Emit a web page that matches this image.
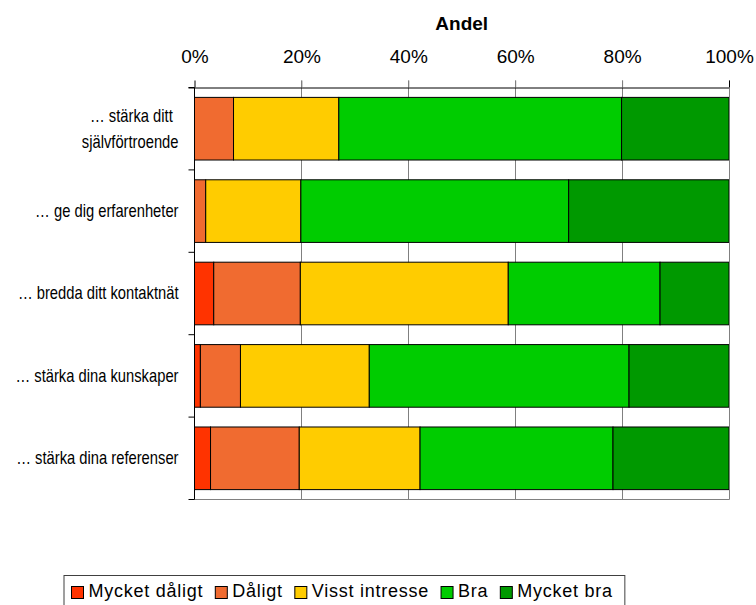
<!DOCTYPE html>
<html>
<head>
<meta charset="utf-8">
<script src="https://cdn.jsdelivr.net/npm/d3@7"></script>
<style>
  html, body { margin: 0; padding: 0; background: #fff; }
  svg { display: block; font-family: 'Liberation Sans', Arial, sans-serif; }
</style>
</head>
<body>
<div id="chart"></div>
<script>
// categories (top to bottom) and the five answer series, in percent
const categories = [
  '… stärka ditt självförtroende',
  '… ge dig erfarenheter',
  '… bredda ditt kontaktnät',
  '… stärka dina kunskaper',
  '… stärka dina referenser',
];
const seriesNames = ['Mycket dåligt', 'Dåligt', 'Visst intresse', 'Bra', 'Mycket bra'];
const mycketDaligt = [0, 0, 3.6, 1.1, 3.0];
const daligt = [7.3, 2.1, 16.2, 7.5, 16.6];
const visstIntresse = [19.7, 17.8, 38.9, 24.1, 22.6];
const bra = [52.9, 50.1, 28.4, 48.6, 36.1];
const mycketBra = [20.1, 30.0, 12.9, 18.7, 21.7];
const xTicks = [0, 20, 40, 60, 80, 100];
const axisTitle = 'Andel';

const colours = ['#FF3300', '#F06B30', '#FFCC00', '#00CC00', '#009900'];

const width = 756;
const height = 605;
const margin = { top: 87.5, right: 27, bottom: 105.5, left: 194.5 };

// build rows for d3.stack
const seriesValues = [mycketDaligt, daligt, visstIntresse, bra, mycketBra];
const rows = categories.map((c, i) => {
  const row = { category: c };
  seriesNames.forEach((s, j) => (row[s] = seriesValues[j][i]));
  return row;
});
const stacked = d3.stack().keys(seriesNames)(rows);

const x = d3
  .scaleLinear()
  .domain([0, 100])
  .range([margin.left, width - margin.right]);

const y = d3
  .scaleBand()
  .domain(categories)
  .range([margin.top, height - margin.bottom])
  .paddingInner(0.24)
  .paddingOuter(0.12);

const svg = d3
  .select('#chart')
  .append('svg')
  .attr('width', width)
  .attr('height', height);

const plotTop = y.range()[0];
const plotBottom = y.range()[1];

// gray gridlines (they also poke above the axis as ticks)
svg
  .append('g')
  .attr('stroke', '#808080')
  .attr('stroke-width', 1)
  .selectAll('line')
  .data(xTicks.filter(t => t > 0))
  .join('line')
  .attr('x1', d => Math.round(x(d)) + 0.5)
  .attr('x2', d => Math.round(x(d)) + 0.5)
  .attr('y1', plotTop - 7)
  .attr('y2', plotBottom);

// plot area bottom border
svg
  .append('line')
  .attr('x1', x(0))
  .attr('x2', x(100))
  .attr('y1', plotBottom)
  .attr('y2', plotBottom)
  .attr('stroke', '#808080');

// stacked bars
svg
  .append('g')
  .selectAll('g')
  .data(stacked)
  .join('g')
  .attr('fill', (d, i) => colours[i])
  .selectAll('rect')
  .data(d => d.map(v => ({ v, cat: v.data.category })))
  .join('rect')
  .attr('x', d => x(d.v[0]))
  .attr('width', d => x(d.v[1]) - x(d.v[0]))
  .attr('y', d => y(d.cat))
  .attr('height', y.bandwidth())
  .attr('stroke', '#000')
  .attr('stroke-width', 1);

// top axis
const xAxis = svg
  .append('g')
  .attr('transform', `translate(0,${plotTop})`)
  .call(
    d3
      .axisTop(x)
      .tickValues(xTicks)
      .tickFormat(d => d + '%')
      .tickSize(7)
      .tickPadding(18)
  );
xAxis.select('.domain').attr('d', `M${x(0) - 6},0.5H${x(100)}`).attr('stroke', '#000');
xAxis
  .selectAll('.tick line')
  .attr('stroke', d => (d === 0 || d === 100 ? '#000' : '#808080'));
xAxis
  .selectAll('.tick text')
  .attr('font-size', 19)
  .attr('font-family', "'Liberation Sans', Arial, sans-serif")
  .attr('fill', '#000');

// right border of the plot area
svg
  .append('line')
  .attr('x1', x(100) + 0.5)
  .attr('x2', x(100) + 0.5)
  .attr('y1', plotTop)
  .attr('y2', plotBottom)
  .attr('stroke', '#808080');

// axis title
svg
  .append('text')
  .attr('x', (x(0) + x(100)) / 2)
  .attr('y', 30)
  .attr('text-anchor', 'middle')
  .attr('font-weight', 'bold')
  .attr('font-size', 19)
  .text(axisTitle);

// left category axis: ticks at band boundaries
const step = y.step();
const boundaries = d3.range(categories.length + 1).map(i => plotTop + i * step);
svg
  .append('line')
  .attr('x1', x(0))
  .attr('x2', x(0))
  .attr('y1', plotTop)
  .attr('y2', plotBottom)
  .attr('stroke', '#000');
svg
  .append('g')
  .selectAll('line')
  .data(boundaries)
  .join('line')
  .attr('x1', x(0) - 6)
  .attr('x2', x(0))
  .attr('y1', d => d)
  .attr('y2', d => d)
  .attr('stroke', '#000');

// category labels, condensed look, wrap long ones
const labelScale = 0.82;
const labelSize = 18;
const labelRight = 178.5;
const maxLabelWidth = 170;
const labels = svg.append('g').attr('font-size', labelSize).attr('fill', '#000');

categories.forEach(cat => {
  const cy = y(cat) + y.bandwidth() / 2;
  const g = labels
    .append('g')
    .attr('transform', `translate(${labelRight},${cy}) scale(${labelScale},1)`);
  const probe = g.append('text').attr('text-anchor', 'end').text(cat);
  const w = probe.node().getComputedTextLength() * labelScale;
  if (w <= maxLabelWidth) {
    probe.attr('dy', '0.33em');
    return;
  }
  probe.remove();
  // split at the last space that keeps the first line short enough
  const words = cat.split(' ');
  const lines = [];
  let cur = '';
  words.forEach(wd => {
    const test = cur ? cur + ' ' + wd : wd;
    const t = g.append('text').text(test);
    const tw = t.node().getComputedTextLength() * labelScale;
    t.remove();
    if (tw > maxLabelWidth - 10 && cur) {
      lines.push(cur);
      cur = wd;
    } else {
      cur = test;
    }
  });
  lines.push(cur);
  const lh = 26;
  lines.forEach((ln, i) => {
    g.append('text')
      .attr('text-anchor', 'end')
      .attr('x', i < lines.length - 1 ? -7 : 0)
      .attr('y', (i - (lines.length - 1) / 2) * lh)
      .attr('dy', '0.33em')
      .text(ln);
  });
});

// legend
const legend = svg.append('g');
const legendTop = 575.5;
const legendLeft = 64;
const sq = 12;
const legendItems = legend.append('g');
let lx = legendLeft + 7.5;
seriesNames.forEach((name, i) => {
  legendItems
    .append('rect')
    .attr('x', lx)
    .attr('y', 586.5)
    .attr('width', sq)
    .attr('height', sq)
    .attr('fill', colours[i])
    .attr('stroke', '#000');
  const t = legendItems
    .append('text')
    .attr('x', lx + sq + 5)
    .attr('y', 597)
    .attr('font-size', 18)
    .attr('letter-spacing', 0.75)
    .text(name);
  lx += sq + 5 + t.node().getComputedTextLength() + 12;
});
legend
  .insert('rect', ':first-child')
  .attr('x', legendLeft)
  .attr('y', legendTop)
  .attr('width', lx - legendLeft)
  .attr('height', 40)
  .attr('fill', '#fff')
  .attr('stroke', '#404040');
</script>
</body>
</html>
